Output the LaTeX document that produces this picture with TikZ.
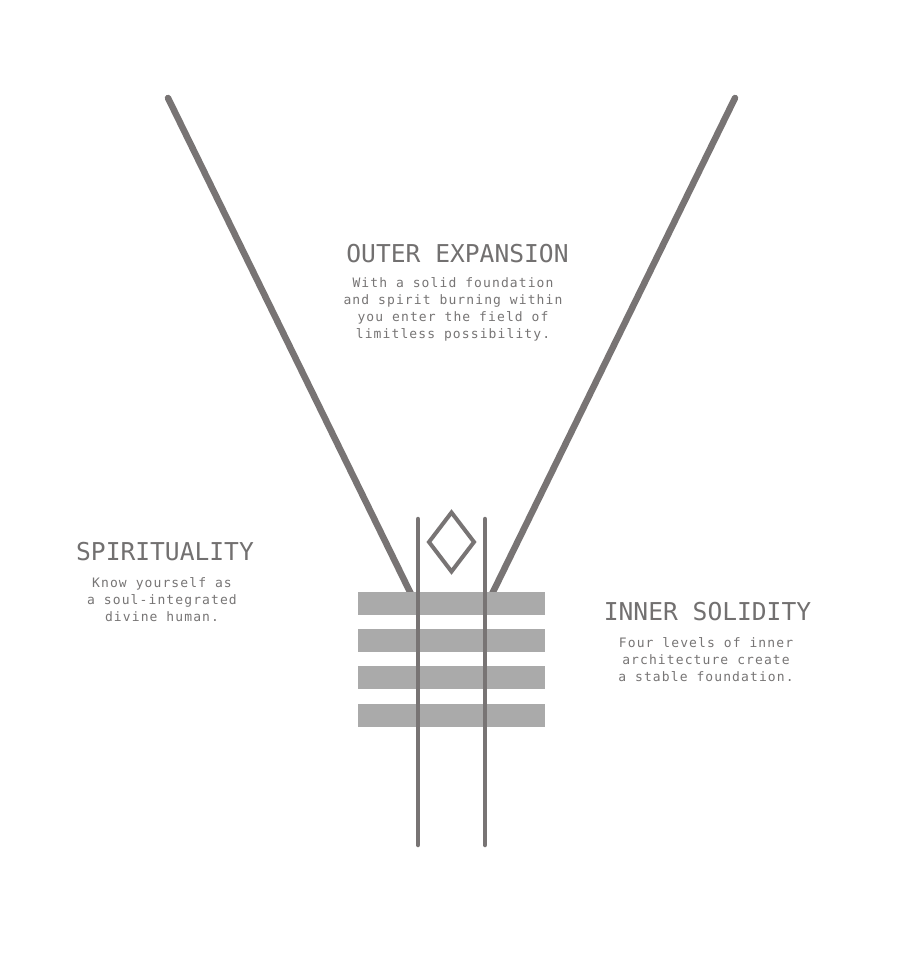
\documentclass[tikz,border=0pt]{standalone}
\usepackage{fontspec}
\newfontfamily\titlefont{DejaVu Sans Mono}
\newfontfamily\bodyfont[LetterSpace=8.5]{DejaVu Sans Mono}
\definecolor{linegray}{HTML}{787474}
\definecolor{bargray}{HTML}{AAAAAA}
\definecolor{titlegray}{HTML}{727070}
\definecolor{bodygray}{HTML}{777575}
\tikzset{
  vline/.style={line width=6.5pt, color=linegray, line cap=round},
  pillar/.style={line width=4.5pt, color=linegray, line cap=round},
  gem/.style={line width=4pt, color=linegray, line join=miter},
  barshape/.style={fill=bargray, draw=none},
  titletext/.style={font=\titlefont\fontsize{24.6}{24.6}\selectfont, text=titlegray, anchor=base, inner sep=0pt},
  bodytext/.style={font=\bodyfont\fontsize{13}{13}\selectfont, text=bodygray, anchor=base, inner sep=0pt},
}
\begin{document}
\begin{tikzpicture}[x=1pt,y=-1pt]
\useasboundingbox (0,0) rectangle (900,971);
\fill[white] (0,0) rectangle (900,971);
% V lines
\coordinate (lt) at (168,98);
\coordinate (lb) at (411,594);
\coordinate (rt) at (735,98);
\coordinate (rb) at (492,594);
\draw[vline] (lt) -- (lb);
\draw[vline] (rt) -- (rb);
% bars
\foreach \y [count=\i] in {592,629,666,704} {
  \fill[barshape] (358,\y) rectangle (545,\y+22.5);
}
% pillars
\coordinate (p1t) at (418,519);
\coordinate (p1b) at (418,845);
\coordinate (p2t) at (485,519);
\coordinate (p2b) at (485,845);
\draw[pillar] (p1t) -- (p1b);
\draw[pillar] (p2t) -- (p2b);
% diamond
\coordinate (dt) at (451.5,512.5);
\coordinate (dr) at (474,542);
\coordinate (db) at (451.5,571.5);
\coordinate (dl) at (429,542);
\draw[gem] (dt) -- (dr) -- (db) -- (dl) -- cycle;
% Outer expansion
\node[titletext] (t1) at (457.5,262) {OUTER EXPANSION};
\node[bodytext] (b1a) at (453,287) {With a solid foundation};
\node[bodytext] (b1b) at (453,304) {and spirit burning within};
\node[bodytext] (b1c) at (453,321) {you enter the field of};
\node[bodytext] (b1d) at (453,338) {limitless possibility.};
% Spirituality
\node[titletext] (t2) at (165,560) {SPIRITUALITY};
\node[bodytext] (b2a) at (162,587) {Know yourself as};
\node[bodytext] (b2b) at (162,604) {a soul-integrated};
\node[bodytext] (b2c) at (162,621) {divine human.};
% Inner solidity
\node[titletext] (t3) at (707.5,620) {INNER SOLIDITY};
\node[bodytext] (b3a) at (706,647) {Four levels of inner};
\node[bodytext] (b3b) at (706,664) {architecture create};
\node[bodytext] (b3c) at (706,681) {a stable foundation.};
\end{tikzpicture}
\end{document}
